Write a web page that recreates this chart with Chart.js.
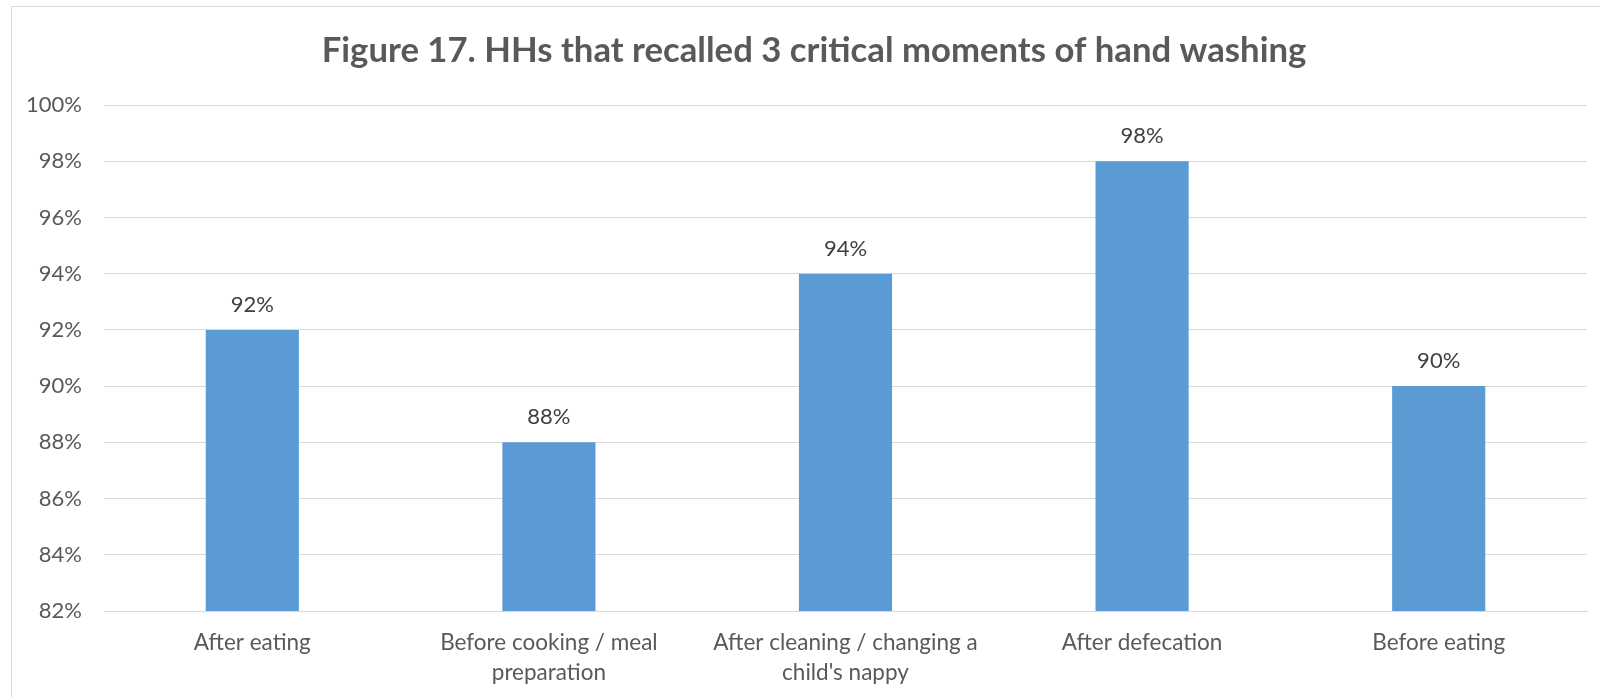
<!DOCTYPE html>
<html>
<head>
<meta charset="utf-8">
<script src="https://cdn.jsdelivr.net/npm/chart.js@4"></script>
<style>
  html, body { margin: 0; padding: 0; background: #fff; }
  #wrap { width: 1600px; height: 697px; position: relative; }
</style>
</head>
<body>
<div id="wrap"><canvas id="chart"></canvas></div>
<script>
let CATEGORIES = [
	'After eating',
	['Before cooking / meal', 'preparation'],
	['After cleaning / changing a', "child's nappy"],
	'After defecation',
	'Before eating',
];
let VALUES = [92, 88, 94, 98, 90];
let Y_MIN = 82;
let Y_MAX = 100;
let Y_STEP = 2;
let TITLE = 'Figure 17. HHs that recalled 3 critical moments of hand washing';

let TEXT_COLOR = '#595959';
let FONT = 'Lato, "Open Sans", sans-serif';

// outer frame like the office chart border, plus the title centred on the frame
let framePlugin = {
	id: 'frame',
	beforeDraw(chart) {
		let c = chart.ctx;
		c.save();
		c.fillStyle = '#fff';
		c.fillRect(0, 0, chart.width, chart.height);
		c.strokeStyle = '#d9d9d9';
		c.lineWidth = 1;
		c.strokeRect(11.5, 6.5, 1700, 800);
		c.font = 'bold 34.7px ' + FONT;
		c.fillStyle = TEXT_COLOR;
		c.textAlign = 'center';
		c.textBaseline = 'middle';
		c.fillText(TITLE, 814, 51);
		c.restore();
	},
};

// value labels above each bar
let valueLabels = {
	id: 'valueLabels',
	afterDatasetsDraw(chart) {
		let c = chart.ctx;
		let meta = chart.getDatasetMeta(0);
		c.save();
		c.font = '22px ' + FONT;
		c.fillStyle = '#404040';
		c.textAlign = 'center';
		c.textBaseline = 'middle';
		meta.data.forEach((bar, i) => {
			c.fillText(VALUES[i] + '%', bar.x, bar.y - 25);
		});
		c.restore();
	},
};

let ctx = document.getElementById('chart').getContext('2d');
let barChart = new Chart(ctx, {
	type: 'bar',
	plugins: [framePlugin, valueLabels],
	data: {
		labels: CATEGORIES,
		datasets: [
			{
				data: VALUES,
				backgroundColor: '#5b9bd5',
				categoryPercentage: 1,
				barPercentage: 0.314,
			},
		],
	},
	options: {
		responsive: true,
		maintainAspectRatio: false,
		animation: false,
		layout: { padding: { left: 0, right: 13, top: 105, bottom: 0 } },
		plugins: {
			legend: { display: false },
			tooltip: { enabled: false },
			title: { display: false },
		},
		scales: {
			x: {
				grid: { display: false, drawTicks: false },
				border: { color: '#d9d9d9', width: 1 },
				ticks: {
					color: TEXT_COLOR,
					font: { family: FONT, size: 22.5, lineHeight: 1.33 },
					padding: 17,
					maxRotation: 0,
					autoSkip: false,
				},
				afterFit(scale) {
					scale.height = 86;
				},
			},
			y: {
				min: Y_MIN,
				max: Y_MAX,
				grid: { color: '#d9d9d9', drawTicks: false },
				border: { display: false },
				ticks: {
					stepSize: Y_STEP,
					color: TEXT_COLOR,
					font: { family: FONT, size: 22 },
					padding: 22,
					callback: (v) => v + '%',
				},
				afterFit(scale) {
					scale.width = 104;
				},
			},
		},
	},
});
</script>
</body>
</html>
